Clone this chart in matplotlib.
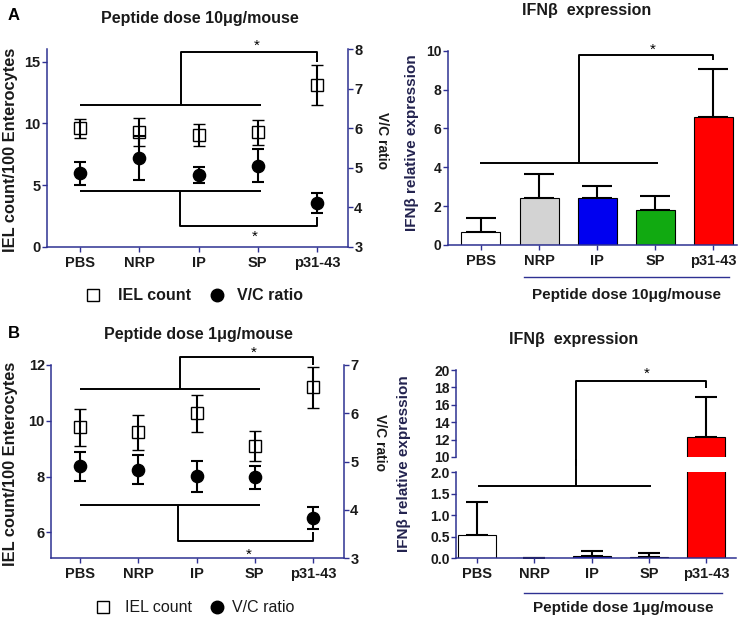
import matplotlib
matplotlib.use('Agg')
import matplotlib.pyplot as plt
from matplotlib.lines import Line2D
import numpy as np

plt.rcParams['font.family'] = ['Liberation Sans', 'DejaVu Sans']

W, H = 747, 619
NAVY = '#2E3192'
TXT = '#1a1a1a'

groups = ['PBS', 'NRP', 'IP', 'SP', 'p31-43']

# Panel A (10 ug/mouse)
iel_a = [9.6, 9.3, 9.05, 9.27, 13.1]
iel_a_err = [0.75, 1.15, 0.9, 1.0, 1.6]
vc_a = [4.86, 5.25, 4.82, 5.06, 4.11]
vc_a_err = [0.28, 0.55, 0.2, 0.41, 0.25]
ifn_a = [0.65, 2.4, 2.4, 1.8, 6.57]
ifn_a_err = [0.72, 1.25, 0.64, 0.72, 2.47]

# Panel B (1 ug/mouse)
iel_b = [9.77, 9.59, 10.27, 9.1, 11.2]
iel_b_err = [0.66, 0.63, 0.67, 0.55, 0.74]
vc_b = [4.9, 4.83, 4.69, 4.67, 3.83]
vc_b_err = [0.3, 0.3, 0.32, 0.23, 0.22]
ifn_b = [0.55, 0.015, 0.06, 0.04, 12.34]
ifn_b_err = [0.77, 0.0, 0.12, 0.08, 4.56]

bar_colors = ['#FFFFFF', '#D3D3D3', '#0000F0', '#11AA11', '#FF0000']

fig = plt.figure(figsize=(W / 100, H / 100), dpi=100)
fig.patch.set_facecolor('white')


def ax_px(l, t, r, b):
    return fig.add_axes([l / W, 1 - b / H, (r - l) / W, (b - t) / H])


def ftext(x, y, s, **kw):
    kw.setdefault('ha', 'center')
    kw.setdefault('va', 'center')
    kw.setdefault('color', TXT)
    fig.text(x / W, 1 - y / H, s, **kw)


def fline(xs, ys, **kw):
    fig.add_artist(Line2D([x / W for x in xs], [1 - y / H for y in ys],
                          transform=fig.transFigure, **kw))


def style(ax, left=False, right=False, bottom=False, fs_y=10.5, fs_x=10.5):
    for s in ['top', 'right', 'left', 'bottom']:
        ax.spines[s].set_visible(False)
    ax.patch.set_alpha(0)
    if left:
        ax.spines['left'].set_visible(True)
    if right:
        ax.spines['right'].set_visible(True)
    if bottom:
        ax.spines['bottom'].set_visible(True)
    for s in ax.spines.values():
        s.set_color(NAVY)
        s.set_linewidth(1.1)
    ax.tick_params(axis='y', left=left, right=right, labelleft=left,
                   labelright=right, direction='out', length=3.5, width=1,
                   color=NAVY, pad=1, labelsize=fs_y, labelcolor=TXT)
    ax.tick_params(axis='x', bottom=bottom, labelbottom=bottom, top=False,
                   direction='out', length=3.5, width=1, color=NAVY, pad=3,
                   labelsize=fs_x, labelcolor=TXT)
    for lab in ax.get_xticklabels() + ax.get_yticklabels():
        lab.set_fontweight('bold')


x = np.arange(len(groups))
BK = dict(color='k', lw=1.4, clip_on=False, solid_capstyle='butt')

# ---------------- Panel A left ----------------
axA = ax_px(46.7, 49.3, 348, 247)
axA.set_xlim(-0.562, 4.523)
axA.set_ylim(0, 16)
axA.set_yticks([0, 5, 10, 15])
axA.set_xticks(x)
axA.set_xticklabels(groups)
style(axA, left=True, bottom=True)
axA.errorbar(x, iel_a, yerr=iel_a_err, fmt='s', mfc='none', mec='k', mew=1.0,
             ms=9, ecolor='k', elinewidth=1.5, capsize=4.3, capthick=1.5)
axA2 = axA.twinx()
axA2.set_ylim(3, 8)
axA2.set_yticks([3, 4, 5, 6, 7, 8])
style(axA2, right=True)
axA2.errorbar(x, vc_a, yerr=vc_a_err, fmt='o', color='k', ms=8.8,
              ecolor='k', elinewidth=1.5, capsize=4.3, capthick=1.5)
axA.plot([0, 3.05], [11.46, 11.46], **BK)
axA.plot([1.71, 1.71, 4, 4], [11.46, 15.8, 15.8, 15.0], **BK)
axA.plot([0, 3.05], [4.53, 4.53], **BK)
axA.plot([1.69, 1.69, 4, 4], [4.53, 1.7, 1.7, 2.45], **BK)
axA.text(2.98, 16.3, '*', ha='center', va='center', fontsize=11, color='k')
axA.text(2.95, 0.85, '*', ha='center', va='center', fontsize=11, color='k')

ftext(11, 150, 'IEL count/100 Enterocytes', rotation=90, fontsize=11.8,
      fontweight='bold')
ftext(382, 141, 'V/C ratio', rotation=270, fontsize=10, fontweight='bold')
ftext(200, 18, 'Peptide dose 10μg/mouse', fontsize=11.5, fontweight='bold')
ftext(14, 16, 'A', fontsize=12, fontweight='bold', color='k')
# legend A
fig.add_artist(Line2D([93 / W], [1 - 295 / H], marker='s', mfc='none', mec='k',
                      ms=9, mew=1.0, transform=fig.transFigure))
ftext(118, 295, 'IEL count', ha='left', fontsize=11.5, fontweight='bold')
fig.add_artist(Line2D([217 / W], [1 - 295 / H], marker='o', color='k', ms=9,
                      transform=fig.transFigure))
ftext(237, 295, 'V/C ratio', ha='left', fontsize=11.5, fontweight='bold')

# ---------------- Panel A right ----------------
axR = ax_px(447.7, 50.7, 736.7, 245)
axR.set_xlim(-0.572, 4.40)
axR.set_ylim(0, 10)
axR.set_yticks([0, 2, 4, 6, 8, 10])
axR.set_xticks(x)
axR.set_xticklabels(groups)
style(axR, left=True, bottom=True, fs_y=10, fs_x=10.5)
axR.bar(x, ifn_a, width=0.67, color=bar_colors, edgecolor='k', linewidth=0.8,
        zorder=2)
axR.errorbar(x, ifn_a, yerr=[np.zeros(5), ifn_a_err], fmt='none', ecolor='k',
             elinewidth=1.5, capsize=10.5, capthick=1.5, zorder=1)
axR.plot([-0.02, 3.05], [4.2, 4.2], **BK)
axR.plot([1.69, 1.69, 3.99, 3.99], [4.2, 9.78, 9.78, 9.52], **BK)
axR.text(2.95, 10.05, '*', ha='center', va='center', fontsize=11, color='k')
fline([524, 729], [276.7, 276.7], color=NAVY, lw=1.0)
ftext(627, 295, 'Peptide dose 10μg/mouse', fontsize=11, fontweight='bold')
ftext(587, 11, 'IFNβ  expression', fontsize=11.5, fontweight='bold')
ftext(412, 143, 'IFNβ relative expression', rotation=90, fontsize=11,
      fontweight='bold', color='#23234F')

# ---------------- Panel B left ----------------
axB = ax_px(51, 365, 344, 558)
axB.set_xlim(-0.497, 4.53)
axB.set_ylim(5.08, 12)
axB.set_yticks([6, 8, 10, 12])
axB.set_xticks(x)
axB.set_xticklabels(groups)
style(axB, left=True, bottom=True)
axB.errorbar(x, iel_b, yerr=iel_b_err, fmt='s', mfc='none', mec='k', mew=1.0,
             ms=9, ecolor='k', elinewidth=1.5, capsize=4.3, capthick=1.5)
axB2 = axB.twinx()
axB2.set_ylim(3, 7)
axB2.set_yticks([3, 4, 5, 6, 7])
style(axB2, right=True)
axB2.errorbar(x, vc_b, yerr=vc_b_err, fmt='o', color='k', ms=8.8,
              ecolor='k', elinewidth=1.5, capsize=4.3, capthick=1.5)
axB.plot([0, 3.09], [11.13, 11.13], **BK)
axB.plot([1.72, 1.72, 4, 4], [11.13, 12.3, 12.3, 12.0], **BK)
axB.plot([0, 3.09], [6.97, 6.97], **BK)
axB.plot([1.675, 1.675, 4, 4], [6.97, 5.7, 5.7, 6.03], **BK)
axB.text(2.98, 12.45, '*', ha='center', va='center', fontsize=11, color='k')
axB.text(2.89, 5.2, '*', ha='center', va='center', fontsize=11, color='k')

ftext(11, 464, 'IEL count/100 Enterocytes', rotation=90, fontsize=11.8,
      fontweight='bold')
ftext(380, 443, 'V/C ratio', rotation=270, fontsize=10, fontweight='bold')
ftext(198, 334, 'Peptide dose 1μg/mouse', fontsize=11.5, fontweight='bold')
ftext(14, 334, 'B', fontsize=12, fontweight='bold', color='k')
fig.add_artist(Line2D([103 / W], [1 - 607 / H], marker='s', mfc='none', mec='k',
                      ms=9, mew=1.0, transform=fig.transFigure))
ftext(125, 607, 'IEL count', ha='left', fontsize=11.5)
fig.add_artist(Line2D([217 / W], [1 - 607 / H], marker='o', color='k', ms=9,
                      transform=fig.transFigure))
ftext(232, 607, 'V/C ratio', ha='left', fontsize=11.5)

# ---------------- Panel B right (broken axis) ----------------
axL = ax_px(456, 472.3, 736, 558.3)
axU = ax_px(456, 370, 736, 457)
for a in (axL, axU):
    a.set_xlim(-0.37, 4.52)
    a.set_xticks(x)
axL.set_ylim(0, 2.0)
axL.set_yticks([0, 0.5, 1.0, 1.5, 2.0])
axL.set_yticklabels(['0.0', '0.5', '1.0', '1.5', '2.0'])
axL.set_xticklabels(groups)
axU.set_ylim(10, 20)
axU.set_yticks([10, 12, 14, 16, 18, 20])
style(axL, left=True, bottom=True, fs_y=10, fs_x=10.5)
style(axU, left=True, fs_y=10)
for a in (axL, axU):
    a.bar(x, ifn_b, width=0.66, color=bar_colors, edgecolor='k', linewidth=0.8,
          zorder=2)
    a.errorbar(x, ifn_b, yerr=[np.zeros(5), ifn_b_err], fmt='none', ecolor='k',
               elinewidth=1.5, capsize=8, capthick=1.5, zorder=1)
axL.plot([0.02, 3.03], [1.68, 1.68], **BK)
axL.plot([1.72, 1.72], [1.68, 2.3], **BK)
axU.plot([1.72, 1.72, 3.99, 3.99], [9.0, 18.7, 18.7, 17.9], **BK)
axU.text(2.96, 19.6, '*', ha='center', va='center', fontsize=11, color='k')
fline([524, 721.7], [592.7, 592.7], color=NAVY, lw=1.0)
ftext(623, 608, 'Peptide dose 1μg/mouse', fontsize=11, fontweight='bold')
ftext(574, 340, 'IFNβ  expression', fontsize=11.5, fontweight='bold')
ftext(404, 464, 'IFNβ relative expression', rotation=90, fontsize=11,
      fontweight='bold', color='#23234F')

fig.savefig('out.png', dpi=100, facecolor='white')
